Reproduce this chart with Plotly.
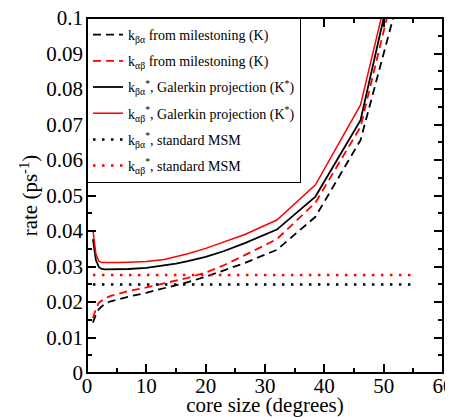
import plotly.graph_objects as go

# ---- data ----
x_core = [1, 1.5, 2, 2.5, 3, 4, 5, 7, 10, 13, 15, 17, 20, 23, 26.6, 32, 38.5, 46.1, 54]

k_ba_mile = [0.0142, 0.0165, 0.0180, 0.0188, 0.0195, 0.0202, 0.0207, 0.0215, 0.0226, 0.0239, 0.0247, 0.0256, 0.0271, 0.0289, 0.0310, 0.0347, 0.0440, 0.0656, 0.115]
k_ab_mile = [0.0155, 0.0180, 0.0198, 0.0205, 0.0210, 0.0217, 0.0222, 0.0231, 0.0241, 0.0252, 0.0260, 0.0268, 0.0283, 0.0303, 0.0332, 0.0377, 0.0480, 0.0693, 0.124]
k_ba_gal = [0.0377, 0.0318, 0.0298, 0.0293, 0.0292, 0.0292, 0.0293, 0.0293, 0.0296, 0.0302, 0.0308, 0.0315, 0.0327, 0.0343, 0.0366, 0.0404, 0.0497, 0.0712, 0.1295]
k_ab_gal = [0.0403, 0.0335, 0.0315, 0.0311, 0.0311, 0.0312, 0.0311, 0.0312, 0.0314, 0.0320, 0.0327, 0.0336, 0.0351, 0.0368, 0.0390, 0.0431, 0.0530, 0.0755, 0.131]

x_msm = [1, 55]
k_ba_msm = [0.0249, 0.0249]
k_ab_msm = [0.0276, 0.0276]

x_ticks = [0, 10, 20, 30, 40, 50, 60]
x_ticklabels = ["0", "10", "20", "30", "40", "50", "60"]
y_ticks = [0, 0.01, 0.02, 0.03, 0.04, 0.05, 0.06, 0.07, 0.08, 0.09, 0.1]
y_ticklabels = ["0", "0.01", "0.02", "0.03", "0.04", "0.05", "0.06", "0.07", "0.08", "0.09", "0.1"]

names = [
    "k<sub>βα</sub> from milestoning (K)",
    "k<sub>αβ</sub> from milestoning (K)",
    "k<sub>βα</sub><sup>*</sup>, Galerkin projection (K<sup>*</sup>)",
    "k<sub>αβ</sub><sup>*</sup>, Galerkin projection (K<sup>*</sup>)",
    "k<sub>βα</sub><sup>*</sup>, standard MSM",
    "k<sub>αβ</sub><sup>*</sup>, standard MSM",
]

RED = "#ff0000"
BLK = "#000000"
DASH = "8px,5px"
DOT = "2.5px,6.5px"

fig = go.Figure()
fig.add_trace(go.Scatter(x=x_core, y=k_ba_mile, mode="lines", name=names[0], legendgroup="g1",
                         line=dict(color=BLK, width=1.8, dash=DASH)))
fig.add_trace(go.Scatter(x=x_core, y=k_ab_mile, mode="lines", name=names[1], legendgroup="g2",
                         line=dict(color=RED, width=1.8, dash=DASH)))
fig.add_trace(go.Scatter(x=x_core, y=k_ba_gal, mode="lines", name=names[2], legendgroup="g3",
                         line=dict(color=BLK, width=1.8)))
fig.add_trace(go.Scatter(x=x_core, y=k_ab_gal, mode="lines", name=names[3], legendgroup="g4",
                         line=dict(color=RED, width=1.5)))
fig.add_trace(go.Scatter(x=x_msm, y=k_ba_msm, mode="lines", name=names[4], legendgroup="g5",
                         line=dict(color=BLK, width=2.5, dash=DOT)))
fig.add_trace(go.Scatter(x=x_msm, y=k_ab_msm, mode="lines", name=names[5], legendgroup="g6",
                         line=dict(color=RED, width=2.5, dash=DOT)))

FONT = "Liberation Serif, Times New Roman, serif"
axis_common = dict(
    showgrid=False, zeroline=False, showline=False,
    mirror="allticks", ticks="inside", ticklen=9, tickwidth=1.5, tickcolor="black",
    tickfont=dict(family=FONT, size=21, color="black"), automargin=False,
    ticklabeloverflow="allow",
)

fig.update_xaxes(range=[0, 60], tickvals=x_ticks, ticktext=x_ticklabels,
                 ticklabelstandoff=-2,
                 minor=dict(ticks="inside", ticklen=5, tickwidth=1.5, tickcolor="black", dtick=5),
                 title=dict(text="core size (degrees)", font=dict(family=FONT, size=21, color="black"), standoff=0),
                 **axis_common)
fig.update_yaxes(range=[0, 0.1], tickvals=y_ticks, ticktext=y_ticklabels,
                 ticklabelstandoff=3,
                 minor=dict(ticks="inside", ticklen=5, tickwidth=1.5, tickcolor="black", dtick=0.005),
                 title=dict(text="rate (ps<sup>-1</sup>)", font=dict(family=FONT, size=21, color="black"), standoff=2),
                 **axis_common)

# plot frame
fig.add_shape(type="rect", xref="paper", yref="paper", x0=0, x1=1, y0=0, y1=1,
              line=dict(color="black", width=2), layer="above")

# the page adds an 8px body margin, so the figure is sized to fit the 453x417 window
fig.update_layout(
    width=445, height=409,
    font=dict(family=FONT, color="black"),
    margin=dict(l=79, r=10, t=10, b=44),
    plot_bgcolor="white", paper_bgcolor="white",
    showlegend=True,
    legend=dict(x=0, y=1, xanchor="left", yanchor="top",
                bgcolor="white", bordercolor="black", borderwidth=1,
                font=dict(family=FONT, size=14, color="black"),
                tracegroupgap=5, itemwidth=30),
)

fig.write_html("out.html")
